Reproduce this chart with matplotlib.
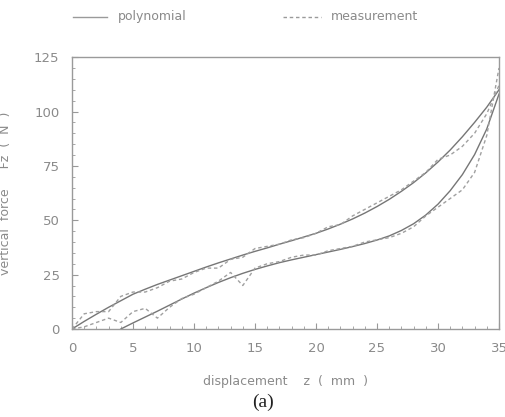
import numpy as np
import matplotlib
matplotlib.use("Agg")
from matplotlib import pyplot as plt
from matplotlib.lines import Line2D

# displacement z (mm), 1 mm steps
z_up = list(range(0, 36))
z_low = list(range(4, 36))
z_meas = list(range(0, 36))

# polynomial fit, upper (loading) branch
poly_up = [0, 3.5, 6.8, 10, 13, 16, 18.3, 20.5, 22.5, 24.5, 26.5, 28.5, 30.4, 32.2,
           34, 35.7, 37.3, 39, 40.6, 42.3, 44, 46, 48.2, 50.6, 53.3, 56.3, 59.6,
           63.3, 67.3, 71.8, 76.8, 82.3, 88.4, 95, 102, 110]
# polynomial fit, lower (unloading) branch
poly_low = [0, 2.8, 5.5, 8.2, 11, 13.8, 16.5, 19, 21.4, 23.6, 25.6, 27.4, 29, 30.5,
            31.8, 33, 34.2, 35.4, 36.6, 37.9, 39.3, 40.9, 42.8, 45.3, 48.4, 52.4, 57.4,
            63.6, 71, 80.2, 92, 108]

# measured force
meas_up = [0, 7, 8, 8, 15, 17, 17, 19, 22, 23, 26, 28, 28, 32, 33, 37, 38, 39, 41,
           42, 44, 47, 48, 52, 55, 58, 61, 64, 68, 72, 78, 80, 84, 90, 99, 112]
meas_low = [0, 1, 3, 5, 3, 8, 9.5, 5, 10, 14, 16, 19, 22, 26, 20, 28, 30, 31, 33,
            34, 34, 36, 37, 38, 40, 41, 42, 44, 47, 52, 56, 60, 64, 72, 89, 120]

LINE_COL = "#767676"
TEXT_COL = "#8a8a8a"

fig = plt.figure(figsize=(5.05, 4.17), dpi=100)
ax = fig.add_axes([0.1426, 0.211, 0.8455, 0.652])

ax.plot(z_up, poly_up, color=LINE_COL, lw=1.0)
ax.plot(z_low, poly_low, color=LINE_COL, lw=1.0)
ax.plot(z_meas, meas_up, color="#a0a0a0", lw=1.0, ls=(0, (2.5, 2)))
ax.plot(z_meas, meas_low, color="#a0a0a0", lw=1.0, ls=(0, (2.5, 2)))

ax.set_xlim(0, 35)
ax.set_ylim(0, 125)
ax.set_xticks(np.arange(0, 36, 5))
ax.set_xticks(np.arange(0, 36, 1), minor=True)
ax.set_yticks(np.arange(0, 126, 25))
ax.set_yticks(np.arange(0, 126, 5), minor=True)
ax.tick_params(which="both", direction="in", colors="#999999", labelcolor=TEXT_COL,
               labelsize=9.5, top=False, right=False)
ax.tick_params(which="major", length=4, pad=9)
ax.tick_params(which="minor", length=2)
for s in ax.spines.values():
    s.set_color("#9a9a9a")
    s.set_linewidth(1.0)

ax.set_xlabel("displacement    z  (  mm  )", color=TEXT_COL, fontsize=9, labelpad=15)
ax.set_ylabel("vertical  force     Fz  (  N  )", color=TEXT_COL, fontsize=9, labelpad=16)

# legend row above the plot
fig.add_artist(Line2D([0.145, 0.212], [0.96, 0.96], color="#9a9a9a", lw=1.0))
fig.text(0.233, 0.96, "polynomial", color=TEXT_COL, fontsize=9, va="center")
fig.add_artist(Line2D([0.56, 0.635], [0.96, 0.96], color="#9a9a9a", lw=1.0,
                      ls=(0, (2.5, 2))))
fig.text(0.655, 0.96, "measurement", color=TEXT_COL, fontsize=9, va="center")

fig.text(0.52, 0.035, "(a)", fontsize=14, family="Liberation Serif", ha="center",
         va="center", color="#222222")

fig.savefig("out.png", dpi=100)
